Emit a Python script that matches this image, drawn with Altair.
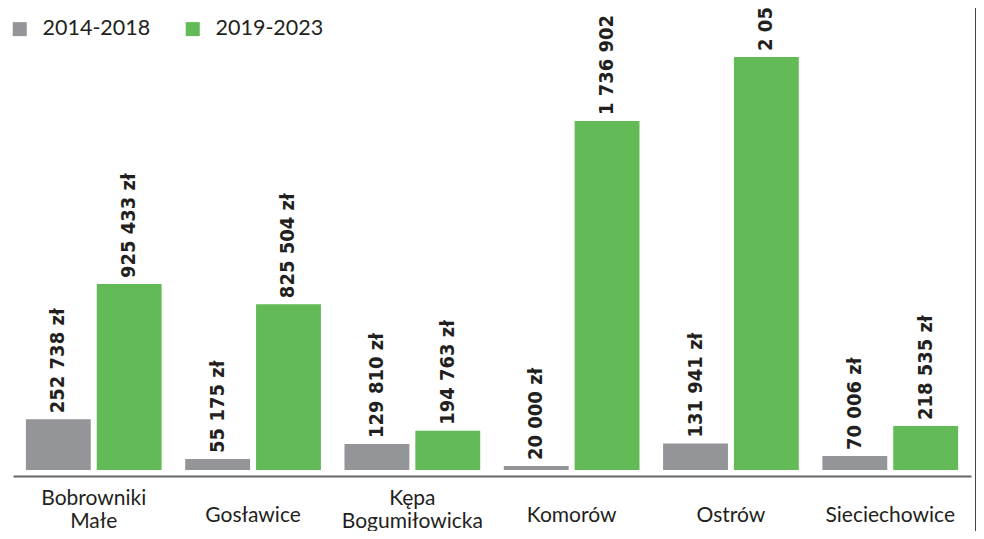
import altair as alt
import pandas as pd

categories = ["Bobrowniki Małe", "Gosławice", "Kępa Bogumiłowicka", "Komorów", "Ostrów", "Sieciechowice"]
periods = ["2014-2018", "2019-2023"]
values_2014_2018 = [252738, 55175, 129810, 20000, 131941, 70006]
values_2019_2023 = [925433, 825504, 194763, 1736902, 2056000, 218535]
colors = ["#939598", "#62bb57"]

rows = []
for cat, a, b in zip(categories, values_2014_2018, values_2019_2023):
    for per, v in zip(periods, [a, b]):
        rows.append({"category": cat, "period": per, "value": v,
                     "label": f"{v:,}".replace(",", " ") + " zł"})
df = pd.DataFrame(rows)

cat_rows = []
for cat in categories:
    parts = cat.split(" ")
    cat_rows.append({"category": cat,
                     "line1": parts[0] if len(parts) > 1 else "",
                     "line2": parts[1] if len(parts) > 1 else "",
                     "single": cat if len(parts) == 1 else ""})
cdf = pd.DataFrame(cat_rows)

W, H = 958, 462
YMAX = 2299400

xscale = alt.Scale(paddingInner=0.148, paddingOuter=0.081)
x = alt.X("category:N", sort=categories, scale=xscale,
          axis=alt.Axis(title=None, labels=False, ticks=False, offset=6,
                        domainColor="#666666", domainWidth=2))
xo = alt.XOffset("period:N", sort=periods,
                 scale=alt.Scale(paddingInner=0.0845, paddingOuter=0))
y = alt.Y("value:Q", scale=alt.Scale(domain=[0, YMAX], nice=False, zero=True), axis=None)

bars = alt.Chart(df).mark_bar().encode(
    x=x, xOffset=xo, y=y,
    color=alt.Color("period:N", sort=periods,
                    scale=alt.Scale(domain=periods, range=colors),
                    legend=alt.Legend(orient="none", legendX=-4, legendY=10,
                                      direction="horizontal", title=None,
                                      symbolType="square", symbolSize=196,
                                      symbolStrokeWidth=0, symbolOpacity=1,
                                      labelFont="Lato", labelFontSize=21.5,
                                      labelColor="#231f20", labelOffset=12,
                                      columnPadding=31, padding=0))
)

text = alt.Chart(df).mark_text(angle=270, align="left", baseline="middle", dx=6,
                               font="Liberation Sans Narrow, DejaVu Sans Condensed",
                               fontWeight="bold", fontSize=20, color="#231f20").encode(
    x=x, xOffset=xo, y=y, text="label:N")

cat_style = dict(align="center", baseline="middle", font="Lato", fontSize=21,
                 color="#231f20")
cat_line1 = alt.Chart(cdf).mark_text(**cat_style).encode(
    x=x, y=alt.value(491), text="line1:N")
cat_line2 = alt.Chart(cdf).mark_text(**cat_style).encode(
    x=x, y=alt.value(514), text="line2:N")
cat_single = alt.Chart(cdf).mark_text(**cat_style).encode(
    x=x, y=alt.value(508), text="single:N")

border = alt.Chart(df).mark_rule(color="#444444", strokeWidth=1).encode(
    x=alt.value(962.5), y=alt.value(-10), y2=alt.value(H + 80))

chart = alt.layer(bars, text, cat_line1, cat_line2, cat_single, border).properties(
    width=W, height=H,
    autosize=alt.AutoSizeParams(type="none"),
    padding={"left": 5, "top": 0, "right": 5, "bottom": 61},
).configure_view(stroke=None)

chart.save("out.html", embed_options={"renderer": "svg", "actions": False})
